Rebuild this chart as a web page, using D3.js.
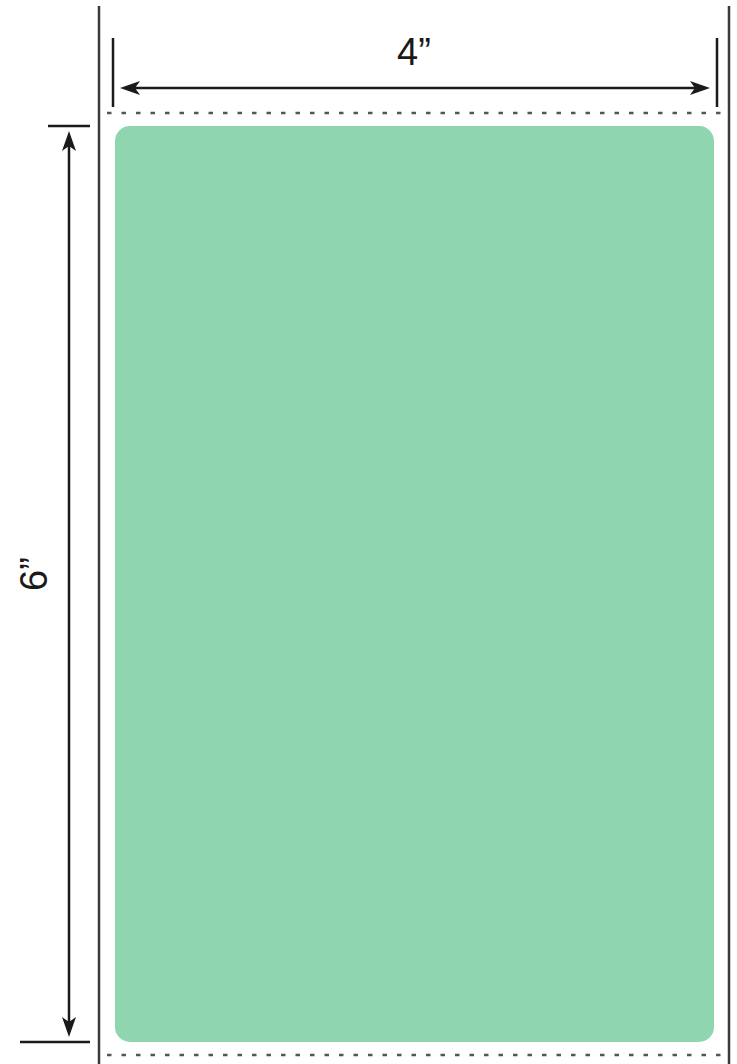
<!DOCTYPE html>
<html>
<head>
<meta charset="utf-8">
<script src="https://cdn.jsdelivr.net/npm/d3@7"></script>
<style>
  html, body { margin: 0; padding: 0; background: #fff; }
  svg { display: block; }
</style>
</head>
<body>
<svg id="chart" width="737" height="1064"></svg>
<script>
// label size in inches
const labelSize = [4, 6];          // width, height
const dimLabels = ["4\u201D", "6\u201D"];

const W = 737, H = 1064;
const INK = "#1a1a1a";
const LINER = "#3a3a3a";
const GREEN = "#8fd6b0";

const svg = d3.select("#chart");

// inches -> pixels
const x = d3.scaleLinear().domain([0, labelSize[0]]).range([115, 714]);
const y = d3.scaleLinear().domain([0, labelSize[1]]).range([126, 1042]);

// liner edges
const linerLeft = 99, linerRight = 729;

svg.append("line")
    .attr("x1", linerLeft).attr("x2", linerLeft)
    .attr("y1", 6).attr("y2", H)
    .attr("stroke", LINER).attr("stroke-width", 2.5);
svg.append("line")
    .attr("x1", linerRight).attr("x2", linerRight)
    .attr("y1", 6).attr("y2", H)
    .attr("stroke", LINER).attr("stroke-width", 2.5);

// perforation lines
[113, 1055].forEach(py => {
    svg.append("line")
        .attr("x1", linerLeft + 8).attr("x2", linerRight - 8)
        .attr("y1", py).attr("y2", py)
        .attr("stroke", "#555").attr("stroke-width", 2.5)
        .attr("stroke-dasharray", "4.5 10");
});

// the label itself
svg.append("rect")
    .attr("x", x(0)).attr("y", y(0))
    .attr("width", x(labelSize[0]) - x(0))
    .attr("height", y(labelSize[1]) - y(0))
    .attr("rx", 15).attr("ry", 15)
    .attr("fill", GREEN);

function arrowHead(tx, ty, dir) {
    // dir: 'left' | 'right' | 'up' | 'down'
    const L = 20, w = 7;
    let pts;
    switch (dir) {
        case 'left':  pts = [[tx, ty], [tx + L, ty - w], [tx + L - 5, ty], [tx + L, ty + w]]; break;
        case 'right': pts = [[tx, ty], [tx - L, ty - w], [tx - L + 5, ty], [tx - L, ty + w]]; break;
        case 'up':    pts = [[tx, ty], [tx - w, ty + L], [tx, ty + L - 5], [tx + w, ty + L]]; break;
        case 'down':  pts = [[tx, ty], [tx - w, ty - L], [tx, ty - L + 5], [tx + w, ty - L]]; break;
    }
    svg.append("polygon")
        .attr("points", pts.map(p => p.join(",")).join(" "))
        .attr("fill", INK);
}

// width dimension
const dimY = 88;
[113, 717].forEach(px => {
    svg.append("line")
        .attr("x1", px).attr("x2", px)
        .attr("y1", 38).attr("y2", 107)
        .attr("stroke", INK).attr("stroke-width", 2.5);
});
svg.append("line")
    .attr("x1", 125).attr("x2", 705)
    .attr("y1", dimY).attr("y2", dimY)
    .attr("stroke", INK).attr("stroke-width", 2.5);
arrowHead(120, dimY, 'left');
arrowHead(710, dimY, 'right');

svg.append("text")
    .attr("x", 414).attr("y", 65)
    .attr("text-anchor", "middle")
    .attr("font-family", "Liberation Sans, Arial, sans-serif")
    .attr("font-size", 38)
    .attr("fill", INK)
    .text(dimLabels[0]);

// height dimension
const dimX = 69;
[[48, y(0)], [20, y(labelSize[1])]].forEach(([x1, py]) => {
    svg.append("line")
        .attr("x1", x1).attr("x2", 90)
        .attr("y1", py).attr("y2", py)
        .attr("stroke", INK).attr("stroke-width", 2.5);
});
svg.append("line")
    .attr("x1", dimX).attr("x2", dimX)
    .attr("y1", 140).attr("y2", 1028)
    .attr("stroke", INK).attr("stroke-width", 2.5);
arrowHead(dimX, 131, 'up');
arrowHead(dimX, 1037, 'down');

svg.append("text")
    .attr("transform", "translate(47,574) rotate(-90)")
    .attr("text-anchor", "middle")
    .attr("font-family", "Liberation Sans, Arial, sans-serif")
    .attr("font-size", 38)
    .attr("fill", INK)
    .text(dimLabels[1]);
</script>
</body>
</html>
